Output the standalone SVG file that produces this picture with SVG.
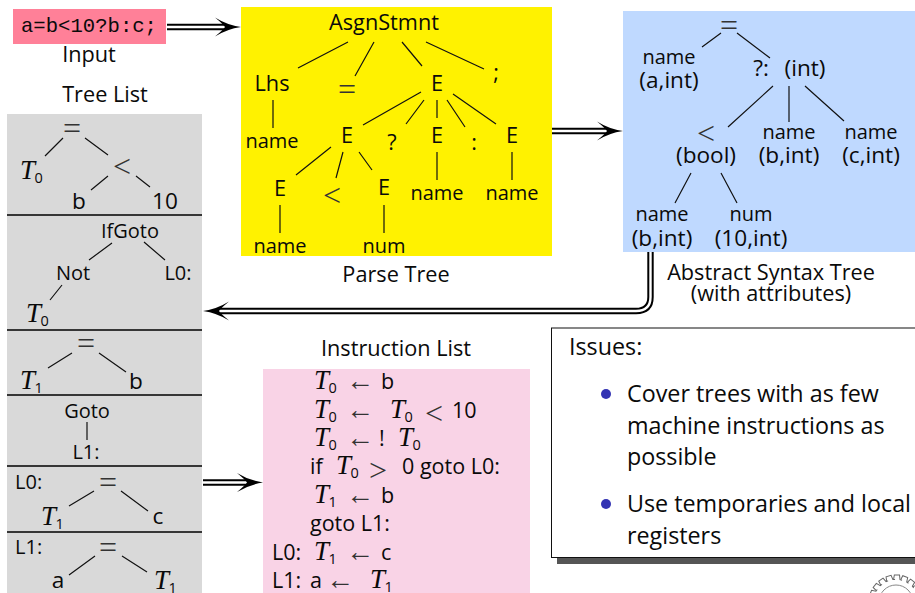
<svg xmlns="http://www.w3.org/2000/svg" width="915" height="593" viewBox="0 0 915 593">
<style>
text{font-family:"Open Sans","Noto Sans","Liberation Sans",sans-serif;font-size:20px;fill:#0a0a0a;text-anchor:middle}
.b{font-size:21.7px}
.p{font-size:22.6px}
.q{font-size:23.3px;text-anchor:start}
.c{font-size:21.5px;text-anchor:start}
.l{text-anchor:start}
.m{font-family:"Liberation Mono",monospace;font-size:20.6px}
.o{font-family:"Liberation Serif",serif;font-size:32px;fill:#333}
.n{text-anchor:start}
.f{font-family:"Liberation Serif",serif;font-size:28px;text-anchor:start;fill:#333}
.i{font-family:"Liberation Serif",serif;font-style:italic;font-size:27px;text-anchor:start}
.sub{font-size:14.5px;text-anchor:start}
.t{fill:none;stroke:#111;stroke-width:1.2}
.r{stroke:#000;stroke-width:1.6}
.a1{fill:none;stroke:#000;stroke-width:6.4}
.a2{fill:none;stroke:#fff;stroke-width:2.4}
</style>
<defs>
<g id="T0"><text class="i" x="0" y="0">T</text><text class="sub" x="14.500" y="3.500">0</text></g>
<g id="T1"><text class="i" x="0" y="0">T</text><text class="sub" x="14.500" y="3.500">1</text></g>
<path id="ah" d="M0 0Q-14 -2 -26 -9.500Q-18 -3 -16 0Q-18 3 -26 9.500Q-14 2 0 0Z" fill="#000"/>
<path id="tooth" d="M-3.200 -22.500L-2.600 -27H2.600L3.200 -22.500L5.300 -21.900" fill="none" stroke="#666" stroke-width="1"/>
</defs>
<g id="input"><rect x="13" y="9" width="153" height="35" fill="#ff8098"/><text class="m" x="89" y="32">a=b&lt;10?b:c;</text><text class="b" x="89" y="62">Input</text></g>
<g id="tree-list">
<text class="b" x="105" y="102">Tree List</text>
<rect x="7" y="114" width="195" height="479" fill="#d9d9d9"/>
<path class="r" d="M7 215H202M7 330H202M7 395H202M7 466H202M7 532H202"/>
<path class="t" d="M63 138L45 156M85 138L108 155M108 176L91 190M136 176L150 187M112 243L89 260M144 242L165 260M62 285L50 300M72 353L48 368M99 353L126 372M87 422V440M94 491L69 506M121 491L148 511M95 556L69 575M122 556L147 572"/>
<text class="o" x="72" y="139">=</text><use href="#T0" x="20" y="179"/><text class="o" x="122" y="177">&lt;</text><text class="p" x="79" y="209">b</text><text class="p" x="165" y="209">10</text>
<text x="130" y="238">IfGoto</text><text x="73" y="280">Not</text><text x="178" y="280">L0:</text><use href="#T0" x="26" y="322"/>
<text class="o" x="86" y="354">=</text><use href="#T1" x="20" y="389"/><text class="p" x="136" y="389">b</text>
<text x="87" y="418">Goto</text><text x="86" y="459">L1:</text>
<text class="l" x="15" y="489">L0:</text><text class="o" x="108" y="493">=</text><use href="#T1" x="41" y="525"/><text class="p" x="158" y="524">c</text>
<text class="l" x="15" y="554">L1:</text><text class="o" x="108" y="558">=</text><text class="p" x="58" y="588">a</text><use href="#T1" x="154" y="589"/>
</g>
<g id="parse-tree">
<rect x="241" y="7" width="311" height="249" fill="#fff200"/>
<path class="t" d="M348 42L298 68M374 42L355 76M402 42L422 66M426 42L484 69M421 92L363 125M424 100L406 124M437 100V118M447 100L465 127M453 94L496 124M331 147L296 175M343 152L336 178M359 152L372 170M273 100V128M280 205V233M384 205V233M437 152V180M512 152V180"/>
<text class="b" x="384" y="30">AsgnStmnt</text><text class="b" x="272" y="91">Lhs</text><text class="o" x="347" y="100">=</text><text class="b" x="437" y="91">E</text><text class="b" x="496" y="80">;</text>
<text x="272" y="148">name</text><text class="b" x="347" y="143">E</text><text class="b" x="392" y="150">?</text><text class="b" x="437" y="143">E</text><text class="b" x="474" y="150">:</text><text class="b" x="512" y="143">E</text>
<text class="b" x="280" y="196">E</text><text class="o" x="332" y="206">&lt;</text><text class="b" x="384" y="195">E</text><text x="437" y="200">name</text><text x="512" y="200">name</text>
<text x="280" y="253">name</text><text x="384" y="253">num</text>
<text class="b" x="396" y="282">Parse Tree</text>
</g>
<g id="ast">
<rect x="623" y="11" width="292" height="241" fill="#bfd9ff"/>
<path class="t" d="M721 33L702 47M737 33L770 58M773 86L728 127M789 86V122M805 86L844 121M691 173L675 203M721 173L737 203"/>
<text class="o" x="729" y="36">=</text><text x="669" y="64">name</text><text class="p" x="669" y="88">(a,int)</text><text class="p" x="761" y="76">?:</text><text class="p" x="805" y="76">(int)</text>
<text class="o" x="706" y="144">&lt;</text><text class="p" x="706" y="163">(bool)</text><text x="789" y="139">name</text><text class="p" x="789" y="163">(b,int)</text><text x="871" y="139">name</text><text class="p" x="871" y="163">(c,int)</text>
<text x="662" y="221">name</text><text class="p" x="662" y="246">(b,int)</text><text x="751" y="221">num</text><text class="p" x="751" y="246">(10,int)</text>
<text class="b" x="771" y="280">Abstract Syntax Tree</text><text class="b" x="771" y="301">(with attributes)</text>
</g>
<g id="instruction-list">
<text class="b" x="396" y="356">Instruction List</text>
<rect x="263" y="369" width="267" height="224" fill="#f9d3e6"/>
<use href="#T0" x="314" y="389"/><text class="f" x="346" y="390">←</text><text class="c" x="381" y="389">b</text>
<use href="#T0" x="314" y="418"/><text class="f" x="346" y="419">←</text><use href="#T0" x="390" y="418"/><text class="o n" x="425" y="424">&lt;</text><text class="c" x="452" y="418">10</text>
<use href="#T0" x="314" y="446"/><text class="f" x="346" y="447">←</text><text class="c" x="379" y="446">!</text><use href="#T0" x="398" y="446"/>
<text class="c" x="310" y="474">if</text><use href="#T0" x="336" y="474"/><text class="o n" x="369" y="481">&gt;</text><text class="c" x="402" y="474">0 goto L0:</text>
<use href="#T1" x="314" y="503"/><text class="f" x="346" y="504">←</text><text class="c" x="381" y="503">b</text>
<text class="c" x="310" y="531">goto L1:</text>
<text class="c" x="272" y="560">L0:</text><use href="#T1" x="314" y="560"/><text class="f" x="346" y="561">←</text><text class="c" x="381" y="560">c</text>
<text class="c" x="272" y="588">L1:</text><text class="c" x="310" y="588">a</text><text class="f" x="326" y="589">←</text><use href="#T1" x="370" y="588"/>
</g>
<g id="issues">
<rect x="557" y="334" width="358" height="230" fill="#555"/>
<rect x="551.500" y="328" width="364" height="229.500" fill="#fff" stroke="#111" stroke-width="1"/>
<text class="q" x="569" y="355">Issues:</text>
<circle cx="606" cy="394" r="5" fill="#3333b3"/><circle cx="606" cy="504" r="5" fill="#3333b3"/>
<text class="q" x="627" y="402">Cover trees with as few</text><text class="q" x="627" y="434">machine instructions as</text><text class="q" x="627" y="465">possible</text>
<text class="q" x="627" y="512">Use temporaries and local</text><text class="q" x="627" y="544">registers</text>
</g>
<g id="connectors">
<path class="a1" d="M167 27H226"/><path class="a2" d="M167 27H226"/><use href="#ah" x="241" y="27"/>
<path class="a1" d="M552 131H608"/><path class="a2" d="M552 131H608"/><use href="#ah" x="623" y="131"/>
<path class="a1" d="M650.500 252V297Q650.500 311 636 311H218"/><path class="a2" d="M650.500 252V297Q650.500 311 636 311H218"/><use href="#ah" transform="translate(203 311) rotate(180)"/>
<path class="a1" d="M203 482.500H248"/><path class="a2" d="M203 482.500H248"/><use href="#ah" x="263" y="482.500"/>
</g>
<g id="logo">
<use href="#tooth" transform="translate(896 602) rotate(-70)"/><use href="#tooth" transform="translate(896 602) rotate(-52)"/><use href="#tooth" transform="translate(896 602) rotate(-34)"/><use href="#tooth" transform="translate(896 602) rotate(-16)"/><use href="#tooth" transform="translate(896 602) rotate(2)"/><use href="#tooth" transform="translate(896 602) rotate(20)"/><use href="#tooth" transform="translate(896 602) rotate(38)"/><use href="#tooth" transform="translate(896 602) rotate(56)"/>
<circle cx="896" cy="602" r="17" fill="none" stroke="#888" stroke-width="1"/>
</g>
</svg>
